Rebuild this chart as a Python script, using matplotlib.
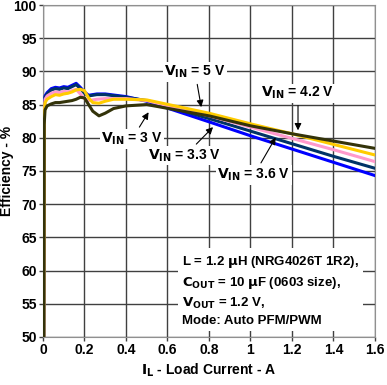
import matplotlib.pyplot as plt

plt.rcParams['font.family'] = ['Liberation Sans', 'DejaVu Sans']
plt.rcParams['font.weight'] = 'bold'

# Load current (A) and efficiency (%) for each input voltage
i_36 = [0.004, 0.006, 0.01, 0.02, 0.04, 0.06, 0.08, 0.1, 0.12, 0.14, 0.16, 0.18, 0.2, 0.22, 0.26, 0.3, 0.4, 0.5, 0.8, 1.0, 1.2, 1.4, 1.6]
e_36 = [50, 84.0, 86.3, 86.8, 87.4, 87.6, 87.5, 87.7, 87.6, 87.9, 88.2, 87.6, 86.9, 86.4, 86.6, 86.6, 86.2, 85.5, 82.4, 80.3, 78.3, 76.3, 74.3]
i_33 = [0.004, 0.006, 0.01, 0.02, 0.04, 0.06, 0.08, 0.1, 0.12, 0.14, 0.16, 0.18, 0.2, 0.22, 0.26, 0.3, 0.4, 0.5, 0.8, 1.0, 1.2, 1.4, 1.6]
e_33 = [50, 84.0, 86.1, 86.6, 87.2, 87.4, 87.3, 87.5, 87.4, 87.7, 88.0, 87.4, 86.7, 86.3, 86.5, 86.5, 86.1, 85.6, 82.9, 81.0, 79.1, 77.2, 75.4]
i_42 = [0.004, 0.006, 0.01, 0.02, 0.04, 0.06, 0.08, 0.1, 0.12, 0.14, 0.16, 0.18, 0.2, 0.22, 0.26, 0.3, 0.4, 0.5, 0.8, 1.0, 1.2, 1.4, 1.6]
e_42 = [50, 83.5, 85.8, 86.3, 86.7, 86.9, 86.8, 87.0, 86.9, 87.1, 87.3, 86.6, 85.9, 85.6, 85.8, 85.9, 85.9, 85.6, 83.3, 81.6, 79.9, 78.2, 76.4]
i_5 = [0.004, 0.006, 0.01, 0.02, 0.04, 0.06, 0.08, 0.1, 0.12, 0.14, 0.16, 0.18, 0.2, 0.22, 0.24, 0.27, 0.3, 0.34, 0.4, 0.5, 0.8, 1.0, 1.2, 1.4, 1.6]
e_5 = [50, 83.0, 85.3, 85.8, 86.2, 86.5, 86.4, 86.6, 86.7, 86.9, 87.2, 87.3, 87.1, 86.0, 85.3, 85.2, 85.5, 85.8, 85.8, 85.7, 83.7, 82.1, 80.6, 79.0, 77.4]
i_3 = [0.004, 0.006, 0.01, 0.02, 0.04, 0.06, 0.08, 0.1, 0.12, 0.14, 0.16, 0.18, 0.2, 0.22, 0.24, 0.27, 0.3, 0.34, 0.4, 0.5, 0.8, 1.0, 1.2, 1.4, 1.6]
e_3 = [50, 82.0, 84.2, 84.8, 85.1, 85.3, 85.3, 85.4, 85.5, 85.6, 85.8, 86.1, 86.0, 85.0, 84.0, 83.3, 83.7, 84.4, 84.8, 85.0, 83.3, 81.8, 80.6, 79.5, 78.4]

series = [
    (i_3, e_3, '#33330a'),
    (i_5, e_5, '#ffcc00'),
    (i_42, e_42, '#ff99cc'),
    (i_33, e_33, '#003366'),
    (i_36, e_36, '#0000ff'),
]

fig = plt.figure(figsize=(3.87, 3.85), dpi=100)
ax = fig.add_axes([0.111, 0.125, 0.858, 0.862])

for x, y, c in reversed(series):
    ax.plot(x, y, color=c, lw=2.2, zorder=3)

ax.set_xlim(0, 1.6)
ax.set_ylim(50, 100)
ax.set_xticks([0, 0.2, 0.4, 0.6, 0.8, 1, 1.2, 1.4, 1.6])
ax.set_xticklabels(['0', '0.2', '0.4', '0.6', '0.8', '1', '1.2', '1.4', '1.6'])
ax.set_yticks(range(50, 101, 5))
ax.grid(True, color='#404040', lw=1)
ax.tick_params(length=3, width=1, color='#404040', labelsize=10, pad=1.5)
for s in ax.spines.values():
    s.set_color('#909090')

ax.set_xlabel(r'$\mathbf{I_L}$ - Load Current - A', fontsize=10, fontweight='bold', labelpad=3)
ax.set_ylabel('Efficiency - %', fontsize=10, fontweight='bold')
ax.yaxis.set_label_coords(-0.088, 0.5)

box = dict(facecolor='white', edgecolor='none', pad=1)
arrow = dict(arrowstyle='-|>', color='black', lw=0.8, mutation_scale=10)
labels = [
    (r'$\mathbf{V_{IN}}$ = 5 V', (0.733, 89.9), (0.765, 84.2)),
    (r'$\mathbf{V_{IN}}$ = 4.2 V', (1.229, 86.7), (1.229, 80.7)),
    (r'$\mathbf{V_{IN}}$ = 3 V', (0.429, 79.8), (0.516, 84.2)),
    (r'$\mathbf{V_{IN}}$ = 3.3 V', (0.684, 77.3), (0.829, 81.9)),
    (r'$\mathbf{V_{IN}}$ = 3.6 V', (1.017, 74.4), (1.128, 80.4)),
]
for txt, pos, tip in labels:
    ax.annotate(txt, xy=tip, xytext=pos, fontsize=10, fontweight='bold',
                ha='center', va='center', bbox=box, arrowprops=arrow, zorder=5)

note = ('L = 1.2 $\\mathbf{\\mu}$H (NRG4026T 1R2),\n'
        r'$\mathbf{C_{OUT}}$ = 10 $\mathbf{\mu}$F (0603 size),' '\n'
        r'$\mathbf{V_{OUT}}$ = 1.2 V,' '\n'
        'Mode: Auto PFM/PWM')
ax.text(0.67, 57.0, note, fontsize=9.5, fontweight='bold', ha='left', va='center',
        linespacing=1.45, bbox=dict(facecolor='white', edgecolor='none', pad=3), zorder=5)

fig.savefig('out.png', dpi=100)
